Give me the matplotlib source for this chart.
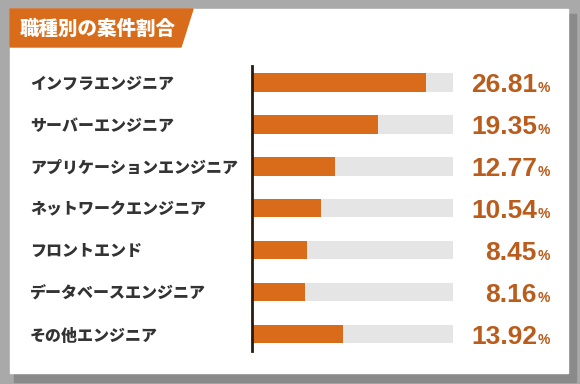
import matplotlib
matplotlib.use("Agg")
import matplotlib.pyplot as plt
from matplotlib.patches import Rectangle, Polygon
import matplotlib.transforms as mtransforms

categories = ["インフラエンジニア", "サーバーエンジニア", "アプリケーションエンジニア",
              "ネットワークエンジニア", "フロントエンド", "データベースエンジニア", "その他エンジニア"]
values = [26.81, 19.35, 12.77, 10.54, 8.45, 8.16, 13.92]
title = "職種別の案件割合"
track_max = 30.9

ORANGE = "#d96c1a"
PCT = "#b95c1c"
TRACK = "#e5e5e5"
LABEL = "#333333"

W, H = 580, 384
fig = plt.figure(figsize=(W / 100, H / 100), dpi=100)
fig.patch.set_facecolor("#a9a9a9")

bg = fig.add_axes([0, 0, 1, 1])
bg.set_xlim(0, W)
bg.set_ylim(H, 0)
bg.axis("off")
# shadow
bg.add_patch(Rectangle((14, 14), 562, 368, color="#8a8a8a", zorder=0))
# card
bg.add_patch(Rectangle((10, 9), 558, 364, color="white", zorder=1))
# title banner
bg.add_patch(Polygon([(10, 9), (193, 9), (181, 47), (10, 47)], closed=True,
                     color=ORANGE, zorder=2))
bg.text(20, 29, title, color="white", fontsize=14, fontweight="heavy",
        family=["Noto Sans CJK JP", "DejaVu Sans"], va="center", ha="left", zorder=3)

# bar axes: x 252 -> 453 px, rows at 82.5 ... 334
row0, rowN = 82.5, 334.0
step = (rowN - row0) / (len(categories) - 1)
top = row0 - 0.4 * step
bot = rowN + 0.4 * step
ax = fig.add_axes([252 / W, 1 - bot / H, (453 - 252) / W, (bot - top) / H])
ax.set_facecolor("none")
ax.set_xlim(0, track_max)
ax.set_ylim(len(categories) - 1 + 0.4, -0.4)
ys = list(range(len(categories)))
ax.barh(ys, [track_max] * len(values), height=0.44, color=TRACK, zorder=1)
ax.barh(ys, values, height=0.44, color=ORANGE, zorder=2)
for s in ["top", "right", "bottom"]:
    ax.spines[s].set_visible(False)
ax.spines["left"].set_color("#2b1a0e")
ax.spines["left"].set_linewidth(2)
ax.spines["left"].set_zorder(5)
ax.set_xticks([])
ax.set_yticks([])

trans = mtransforms.blended_transform_factory(fig.transFigure, ax.transData)
for y, cat, v in zip(ys, categories, values):
    ax.text(30 / W, y + 0.04, cat, transform=trans, ha="left", va="center",
            fontsize=11.5, fontweight="heavy", color=LABEL,
            family=["Noto Sans CJK JP", "DejaVu Sans"], clip_on=False)
    ax.text(537 / W, y + 0.23, f"{v:.2f}", transform=trans, ha="right", va="baseline",
            fontsize=19, fontweight="bold", color=PCT,
            family=["Liberation Sans", "DejaVu Sans"], clip_on=False)
    ax.text(538 / W, y + 0.23, "%", transform=trans, ha="left", va="baseline",
            fontsize=10, fontweight="bold", color=PCT,
            family=["Liberation Sans", "DejaVu Sans"], clip_on=False)

fig.savefig("out.png", dpi=100, facecolor=fig.get_facecolor())
